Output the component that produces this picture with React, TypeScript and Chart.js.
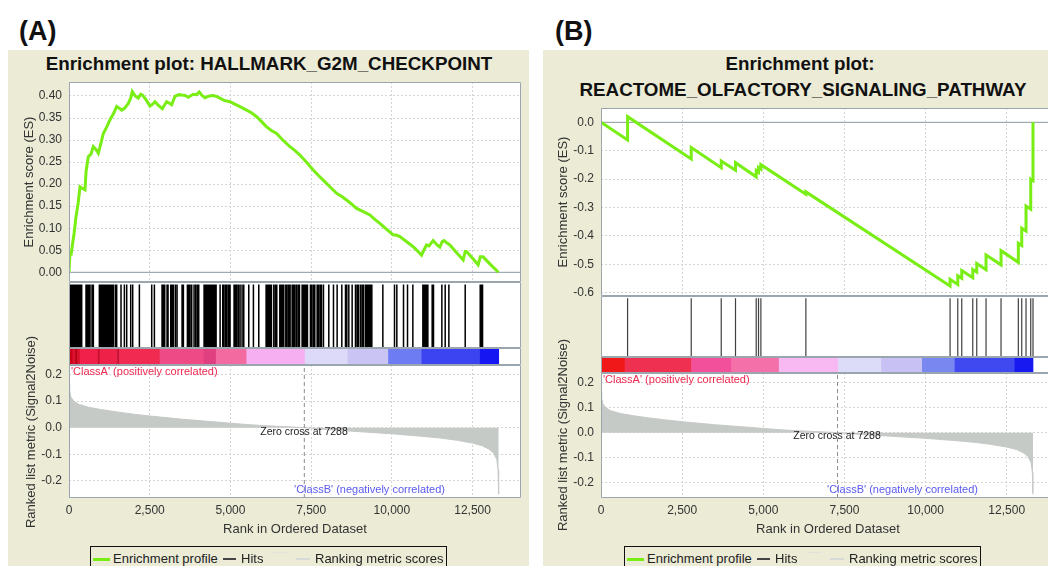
import React, { useEffect, useRef } from "react";
import { Chart, registerables } from "chart.js";

Chart.register(...registerables);

// ---------------- data ----------------
const X_TICKS = [0, 2500, 5000, 7500, 10000, 12500];
const ES_A_TICKS = [0, 0.05, 0.1, 0.15, 0.2, 0.25, 0.3, 0.35, 0.4];
const ES_B_TICKS = [0, -0.1, -0.2, -0.3, -0.4, -0.5, -0.6];
const METRIC_TICKS = [0.2, 0.1, 0, -0.1, -0.2];
const ZERO_CROSS = 7288;

const ES_A_RANKS = [
  0, 31, 70, 114, 160, 217, 280, 341, 420, 495, 530, 598, 680, 753, 840, 908, 980, 1063, 1170, 1270,
  1380, 1476, 1560, 1631, 1720, 1837, 1911, 1961, 2050, 2146, 2220, 2280, 2400, 2508, 2600, 2663, 2780,
  2889, 2965, 3025, 3100, 3180, 3282, 3400, 3489, 3600, 3694, 3849, 3950, 4035, 4120, 4211, 4350, 4469,
  4560, 4675, 4800, 4985, 5150, 5294, 5500, 5650, 5811, 5950, 6120, 6280, 6430, 6620, 6842, 7000, 7152,
  7350, 7564, 7720, 7873, 8080, 8287, 8450, 8597, 8750, 8906, 9100, 9319, 9470, 9628, 9830, 10041, 10150,
  10248, 10450, 10660, 10800, 10919, 10990, 11074, 11150, 11280, 11400, 11487, 11560, 11611, 11700, 11796,
  12000, 12209, 12272, 12313, 12500, 12672, 12740, 12827, 13050, 13300,
];
const ES_A_VALUES = [
  0, 0.045, 0.043, 0.066, 0.09, 0.126, 0.155, 0.194, 0.19, 0.187, 0.23, 0.262, 0.268, 0.285, 0.278, 0.27,
  0.29, 0.315, 0.33, 0.346, 0.36, 0.376, 0.372, 0.368, 0.372, 0.383, 0.395, 0.41, 0.4, 0.395, 0.404, 0.402,
  0.39, 0.377, 0.382, 0.387, 0.378, 0.371, 0.38, 0.387, 0.384, 0.38, 0.399, 0.403, 0.402, 0.401, 0.397,
  0.404, 0.403, 0.409, 0.401, 0.396, 0.4, 0.401, 0.399, 0.395, 0.39, 0.387, 0.381, 0.376, 0.368, 0.362,
  0.353, 0.343, 0.33, 0.321, 0.315, 0.3, 0.285, 0.276, 0.266, 0.25, 0.232, 0.22, 0.209, 0.194, 0.179, 0.172,
  0.164, 0.155, 0.145, 0.138, 0.13, 0.12, 0.111, 0.098, 0.085, 0.084, 0.081, 0.07, 0.058, 0.048, 0.039, 0.05,
  0.062, 0.06, 0.072, 0.062, 0.057, 0.07, 0.072, 0.067, 0.062, 0.045, 0.028, 0.047, 0.047, 0.032, 0.017,
  0.035, 0.035, 0.018, 0,
];

const HITS_A = [
  31, 62, 93, 124, 155, 196, 238, 279, 320, 362, 393, 527, 568, 609, 651, 713, 754, 940, 971, 1002, 1033,
  1064, 1095, 1126, 1167, 1209, 1250, 1291, 1333, 1374, 1436, 1477, 1611, 1715, 1787, 1911, 1973, 2180,
  2562, 2645, 2882, 2923, 2965, 3037, 3068, 3151, 3192, 3233, 3295, 3347, 3502, 3543, 3667, 3708, 3750,
  3801, 3874, 3925, 3977, 4018, 4184, 4225, 4256, 4287, 4318, 4349, 4390, 4432, 4473, 4514, 4556, 4680,
  4762, 4803, 4855, 4896, 4948, 4989, 5113, 5154, 5196, 5247, 5299, 5361, 5413, 5568, 5712, 5878, 6105,
  6146, 6188, 6229, 6270, 6343, 6394, 6436, 6529, 6570, 6611, 6653, 6715, 6756, 6807, 6849, 6911, 6952,
  6993, 7045, 7097, 7138, 7221, 7262, 7303, 7345, 7386, 7479, 7520, 7572, 7613, 7686, 7727, 7778, 7820,
  7882, 8047, 8192, 8305, 8450, 8564, 8605, 8667, 8770, 8873, 8925, 8966, 9028, 9080, 9121, 9183, 9225,
  9266, 9307, 9348, 9380, 9721, 10082, 10154, 10361, 10485, 10650, 10960, 10991, 11022, 11053, 11084,
  11115, 11249, 11290, 11549, 11652, 11766, 12272, 12737, 12778, 12809,
];

const ES_B_RANKS = [
  0, 819, 819, 2780, 2780, 3704, 3704, 4144, 4144, 4782, 4782, 4853, 4853, 4926, 4926, 6312, 6312, 10755,
  10755, 10992, 10992, 11115, 11115, 11454, 11454, 11577, 11577, 11863, 11863, 12325, 12325, 12858, 12858,
  12963, 12963, 13095, 13095, 13240, 13240, 13310, 13310,
];
const ES_B_VALUES = [
  0, -0.062, 0.02, -0.129, -0.089, -0.16, -0.136, -0.169, -0.142, -0.192, -0.17, -0.176, -0.159, -0.165,
  -0.149, -0.253, -0.245, -0.576, -0.553, -0.571, -0.54, -0.549, -0.522, -0.547, -0.518, -0.527, -0.497,
  -0.519, -0.467, -0.502, -0.452, -0.493, -0.426, -0.434, -0.373, -0.383, -0.295, -0.306, -0.2, -0.205, 0,
];
const HITS_B = [
  819, 2780, 3704, 4144, 4782, 4853, 4926, 6312, 10755, 10992, 11115, 11454, 11577, 11863, 12325, 12858,
  12963, 13095, 13240, 13310,
];

const METRIC_RANKS = [
  0, 20, 60, 150, 300, 600, 1000, 1500, 2000, 2500, 3000, 3500, 4000, 4500, 5000, 5500, 6000, 6500, 7000,
  7288, 7500, 8000, 8500, 9000, 9500, 10000, 10500, 11000, 11500, 12000, 12500, 12800, 13000, 13150, 13250,
  13290, 13305, 13310,
];
const METRIC_VALUES = [
  0.165, 0.14, 0.115, 0.1, 0.088, 0.077, 0.068, 0.059, 0.051, 0.044, 0.038, 0.032, 0.027, 0.022, 0.017,
  0.012, 0.008, 0.005, 0.002, 0, -0.002, -0.007, -0.011, -0.015, -0.019, -0.023, -0.028, -0.033, -0.039,
  -0.047, -0.058, -0.068, -0.08, -0.095, -0.12, -0.16, -0.24, -0.25,
];

const CB_A_STARTS = [0, 120, 200, 260, 341, 900, 960, 1500, 1560, 2820, 4180, 4560, 5506, 7314, 8640, 9896, 10929, 12737];
const CB_A_ENDS = [120, 200, 260, 341, 900, 960, 1500, 1560, 2820, 4180, 4560, 5506, 7314, 8640, 9896, 10929, 12737, 13310];
const CB_A_COLORS = [
  "#c80018", "#e01030", "#b80014", "#d8102c", "#f0204a", "#c81030", "#ee2248", "#c41234", "#f02a50",
  "#ee4a86", "#e04080", "#f26aa0", "#f6b0f2", "#dcdaf8", "#cac4f4", "#6d7cf2", "#3c44f2", "#1616f2",
];
const CB_B_STARTS = [0, 740, 2790, 4022, 5490, 7316, 8640, 9900, 10906, 12753];
const CB_B_ENDS = [740, 2790, 4022, 5490, 7316, 8640, 9900, 10906, 12753, 13310];
const CB_B_COLORS = [
  "#f01818", "#f03050", "#f2509a", "#f470a8", "#f8b8f2", "#dcdcf8", "#c8c2f4", "#7888f0", "#4048f0", "#1818f0",
];

// ---------------- style ----------------
const FONT = '"Liberation Sans", Arial, Helvetica, sans-serif';
const GREEN = "#78ee14";
const BEIGE = "#ebebd6";
const GRID = "#d4d4d4";
const FRAME = "#9aa5ae";
const ZERO_LINE = "#8c9ca4";
const FILL = "#c6cac6";
const TICK_COLOR = "#333333";

type Rect = { left: number; top: number; width: number; height: number };

const setTicks = (vals: number[]) => (scale: any) => {
  scale.ticks = vals.map((v) => ({ value: v }));
};
const fixY = (w: number) => (scale: any) => {
  scale.width = w;
  scale.paddingTop = 0;
  scale.paddingBottom = 0;
};
const fixX = (h: number) => (scale: any) => {
  scale.height = h;
  scale.paddingLeft = 0;
  scale.paddingRight = 0;
};

const framePlugin = (noRight: boolean) => ({
  id: "frame",
  beforeDraw(chart: any) {
    const { ctx, chartArea: a } = chart;
    ctx.save();
    ctx.fillStyle = "#ffffff";
    ctx.fillRect(a.left, a.top, a.right - a.left, a.bottom - a.top);
    ctx.restore();
  },
  afterDraw(chart: any) {
    const { ctx, chartArea: a } = chart;
    ctx.save();
    ctx.strokeStyle = FRAME;
    ctx.lineWidth = 1;
    const l = Math.round(a.left) + 0.5;
    const t = Math.round(a.top) + 0.5;
    const r = Math.round(a.right) - 0.5;
    const b = Math.round(a.bottom) - 0.5;
    ctx.beginPath();
    if (noRight) {
      ctx.moveTo(a.right + 2, t);
      ctx.lineTo(l, t);
      ctx.lineTo(l, b);
      ctx.lineTo(a.right + 2, b);
    } else {
      ctx.moveTo(l, t);
      ctx.lineTo(r, t);
      ctx.lineTo(r, b);
      ctx.lineTo(l, b);
      ctx.closePath();
    }
    ctx.stroke();
    ctx.restore();
  },
});

const baseOpts = {
  animation: false as const,
  responsive: false,
  events: [] as string[],
  layout: { padding: 0 },
  plugins: { legend: { display: false }, tooltip: { enabled: false } },
};

const tickFont = { family: FONT, size: 12 };

type Panel = {
  xMax: number;
  noRight: boolean;
  esRanks: number[];
  esValues: number[];
  esMin: number;
  esMax: number;
  esTicks: number[];
  esDigits: number;
  yAxisW: number;
  hits: number[];
  hitColor: string;
  hitWidth: number;
  cbStarts: number[];
  cbEnds: number[];
  cbColors: string[];
  mMin: number;
  mMax: number;
};

function esConfig(p: Panel) {
  return {
    type: "line",
    data: {
      datasets: [
        {
          data: p.esRanks.map((r, i) => ({ x: r, y: p.esValues[i] })),
          borderColor: GREEN,
          borderWidth: 3,
          pointRadius: 0,
          tension: 0,
          borderJoinStyle: "miter",
        },
        {
          data: [
            { x: 0, y: 0 },
            { x: p.xMax, y: 0 },
          ],
          borderColor: ZERO_LINE,
          borderWidth: 1,
          pointRadius: 0,
        },
      ],
    },
    options: {
      ...baseOpts,
      scales: {
        x: {
          type: "linear",
          min: 0,
          max: p.xMax,
          ticks: { display: false },
          grid: { color: GRID, drawTicks: false },
          border: { display: false, dash: [2, 2] },
          afterBuildTicks: setTicks(X_TICKS),
          afterFit: fixX(0),
        },
        y: {
          type: "linear",
          min: p.esMin,
          max: p.esMax,
          ticks: {
            font: tickFont,
            color: TICK_COLOR,
            padding: 7,
            callback: (v: number) => v.toFixed(p.esDigits),
          },
          grid: { color: GRID, drawTicks: false },
          border: { display: false, dash: [2, 2] },
          afterBuildTicks: setTicks(p.esTicks),
          afterFit: fixY(p.yAxisW),
        },
      },
    },
    plugins: [framePlugin(p.noRight)],
  };
}

function hitsConfig(p: Panel) {
  return {
    type: "line",
    data: {
      datasets: [
        {
          data: p.hits.flatMap((h) => [
            { x: h, y: 0 },
            { x: h, y: 1 },
            { x: h, y: null },
          ]),
          borderColor: p.hitColor,
          borderWidth: p.hitWidth,
          pointRadius: 0,
          spanGaps: false,
        },
      ],
    },
    options: {
      ...baseOpts,
      scales: {
        x: { type: "linear", min: 0, max: p.xMax, display: false },
        y: { type: "linear", min: 0, max: 1.04, display: false },
      },
    },
    plugins: [framePlugin(p.noRight)],
  };
}

function cbConfig(p: Panel) {
  return {
    type: "bar",
    data: {
      labels: ["bar"],
      datasets: [
        {
          data: p.cbStarts.map((s, i) => ({ x: [s, p.cbEnds[i]], y: "bar" })),
          backgroundColor: p.cbColors,
          borderWidth: 0,
          barPercentage: 1,
          categoryPercentage: 1,
        },
      ],
    },
    options: {
      ...baseOpts,
      indexAxis: "y",
      scales: {
        x: { type: "linear", min: 0, max: p.xMax, display: false },
        y: { type: "category", display: false },
      },
    },
    plugins: [framePlugin(p.noRight)],
  };
}

function metricConfig(p: Panel) {
  return {
    type: "line",
    data: {
      datasets: [
        {
          data: [
            { x: ZERO_CROSS, y: p.mMin },
            { x: ZERO_CROSS, y: p.mMax },
          ],
          borderColor: "#8a8a8a",
          borderWidth: 1,
          borderDash: [4, 3],
          pointRadius: 0,
        },
        {
          data: METRIC_RANKS.map((r, i) => ({ x: r, y: METRIC_VALUES[i] })),
          borderColor: FILL,
          borderWidth: 1,
          backgroundColor: FILL,
          fill: "origin",
          pointRadius: 0,
          tension: 0,
        },
      ],
    },
    options: {
      ...baseOpts,
      scales: {
        x: {
          type: "linear",
          min: 0,
          max: p.xMax,
          ticks: {
            font: tickFont,
            color: TICK_COLOR,
            padding: 5,
            maxRotation: 0,
            callback: (v: number) => v.toLocaleString("en-US"),
          },
          grid: { color: GRID, drawTicks: false },
          border: { display: false, dash: [2, 2] },
          afterBuildTicks: setTicks(X_TICKS),
          afterFit: fixX(24),
        },
        y: {
          type: "linear",
          min: p.mMin,
          max: p.mMax,
          ticks: {
            font: tickFont,
            color: TICK_COLOR,
            padding: 7,
            callback: (v: number) => v.toFixed(1),
          },
          grid: { color: GRID, drawTicks: false },
          border: { display: false, dash: [2, 2] },
          afterBuildTicks: setTicks(METRIC_TICKS),
          afterFit: fixY(p.yAxisW),
        },
      },
    },
    plugins: [framePlugin(p.noRight)],
  };
}

function ChartCanvas({ rect, make }: { rect: Rect; make: () => any }) {
  const ref = useRef<HTMLCanvasElement>(null);
  useEffect(() => {
    const chart = new Chart(ref.current as HTMLCanvasElement, make());
    return () => chart.destroy();
  }, []);
  return (
    <canvas
      ref={ref}
      width={rect.width}
      height={rect.height}
      style={{
        position: "absolute",
        left: rect.left,
        top: rect.top,
        width: rect.width,
        height: rect.height,
      }}
    />
  );
}

function Txt({
  x,
  y,
  children,
  size = 13,
  bold = false,
  color = "#222",
  align = "center",
  rotate = false,
}: {
  x: number;
  y: number;
  children: React.ReactNode;
  size?: number;
  bold?: boolean;
  color?: string;
  align?: "center" | "left" | "right";
  rotate?: boolean;
}) {
  const tx = align === "center" ? "-50%" : align === "left" ? "0" : "-100%";
  return (
    <div
      style={{
        position: "absolute",
        left: x,
        top: y,
        transform: `translate(${tx}, -50%)${rotate ? " rotate(-90deg)" : ""}`,
        transformOrigin: rotate ? "center center" : undefined,
        fontFamily: FONT,
        fontSize: size,
        fontWeight: bold ? 700 : 400,
        color,
        whiteSpace: "nowrap",
        lineHeight: 1,
      }}
    >
      {children}
    </div>
  );
}

function Legend({ dx }: { dx: number }) {
  const line = (l: number, w: number, y: number, h: number, c: string) => (
    <div style={{ position: "absolute", left: l + dx, top: y, width: w, height: h, background: c }} />
  );
  return (
    <>
      <div
        style={{
          position: "absolute",
          left: 90 + dx,
          top: 546,
          width: 355,
          height: 40,
          border: "1px solid #111",
          background: BEIGE,
        }}
      />
      {line(93, 17, 558, 3, GREEN)}
      <Txt x={113 + dx} y={558} align="left" size={13}>
        Enrichment profile
      </Txt>
      {line(223, 13, 558, 2, "#444")}
      <Txt x={241 + dx} y={558} align="left" size={13}>
        Hits
      </Txt>
      {line(273, 14, 552, 1, "#e2e2dc")}
      {line(296, 14, 558, 2, "#d6dad6")}
      <Txt x={315 + dx} y={558} align="left" size={13}>
        Ranking metric scores
      </Txt>
    </>
  );
}

const PANEL_A: Panel = {
  xMax: 14000,
  noRight: false,
  esRanks: ES_A_RANKS,
  esValues: ES_A_VALUES,
  esMin: -0.022,
  esMax: 0.4317,
  esTicks: ES_A_TICKS,
  esDigits: 2,
  yAxisW: 61,
  hits: HITS_A,
  hitColor: "#000000",
  hitWidth: 1.5,
  cbStarts: CB_A_STARTS,
  cbEnds: CB_A_ENDS,
  cbColors: CB_A_COLORS,
  mMin: -0.2643,
  mMax: 0.2357,
};

const PANEL_B: Panel = {
  xMax: 13772,
  noRight: true,
  esRanks: ES_B_RANKS,
  esValues: ES_B_VALUES,
  esMin: -0.6116,
  esMax: 0.0504,
  esTicks: ES_B_TICKS,
  esDigits: 1,
  yAxisW: 59,
  hits: HITS_B,
  hitColor: "#404040",
  hitWidth: 1.2,
  cbStarts: CB_B_STARTS,
  cbEnds: CB_B_ENDS,
  cbColors: CB_B_COLORS,
  mMin: -0.263,
  mMax: 0.24,
};

export default function App() {
  return (
    <div
      style={{
        position: "fixed",
        left: 0,
        top: 0,
        width: 1048,
        height: 566,
        overflow: "hidden",
        background: "#ffffff",
      }}
    >
      {/* panel backgrounds */}
      <div style={{ position: "absolute", left: 8, top: 50, width: 521, height: 516, background: BEIGE }} />
      <div style={{ position: "absolute", left: 543, top: 50, width: 505, height: 516, background: BEIGE }} />

      <Txt x={19} y={31} align="left" size={27} bold color="#111">
        (A)
      </Txt>
      <Txt x={555} y={31} align="left" size={27} bold color="#111">
        (B)
      </Txt>
      <Txt x={269} y={64} size={18.8} bold color="#111">
        Enrichment plot: HALLMARK_G2M_CHECKPOINT
      </Txt>
      <Txt x={800} y={64} size={18.8} bold color="#111">
        Enrichment plot:
      </Txt>
      <Txt x={803} y={90} size={18.8} bold color="#111">
        REACTOME_OLFACTORY_SIGNALING_PATHWAY
      </Txt>

      {/* Panel A charts */}
      <ChartCanvas rect={{ left: 8, top: 82, width: 513, height: 200 }} make={() => esConfig(PANEL_A)} />
      <ChartCanvas rect={{ left: 69, top: 282, width: 452, height: 66 }} make={() => hitsConfig(PANEL_A)} />
      <ChartCanvas rect={{ left: 69, top: 348, width: 452, height: 17 }} make={() => cbConfig(PANEL_A)} />
      <ChartCanvas rect={{ left: 8, top: 365, width: 513, height: 157 }} make={() => metricConfig(PANEL_A)} />

      {/* Panel B charts */}
      <ChartCanvas rect={{ left: 542, top: 108, width: 506, height: 188 }} make={() => esConfig(PANEL_B)} />
      <ChartCanvas rect={{ left: 601, top: 296, width: 447, height: 61 }} make={() => hitsConfig(PANEL_B)} />
      <ChartCanvas rect={{ left: 601, top: 357, width: 447, height: 16 }} make={() => cbConfig(PANEL_B)} />
      <ChartCanvas rect={{ left: 542, top: 373, width: 506, height: 149 }} make={() => metricConfig(PANEL_B)} />

      {/* Panel A annotations */}
      <Txt x={28} y={182} rotate size={13} color="#333">
        Enrichment score (ES)
      </Txt>
      <Txt x={30} y={432} rotate size={13} color="#333">
        Ranked list metric (Signal2Noise)
      </Txt>
      <Txt x={295} y={528} size={13} color="#333">
        Rank in Ordered Dataset
      </Txt>
      <Txt x={71} y={371} align="left" size={11} color="#f0284f">
        'ClassA' (positively correlated)
      </Txt>
      <Txt x={304} y={431} size={10.5} color="#222">
        Zero cross at 7288
      </Txt>
      <Txt x={445} y={489} align="right" size={11} color="#5a5af0">
        'ClassB' (negatively correlated)
      </Txt>

      {/* Panel B annotations */}
      <Txt x={562} y={202} rotate size={13} color="#333">
        Enrichment score (ES)
      </Txt>
      <Txt x={562} y={435} rotate size={13} color="#333">
        Ranked list metric (Signal2Noise)
      </Txt>
      <Txt x={828} y={528} size={13} color="#333">
        Rank in Ordered Dataset
      </Txt>
      <Txt x={603} y={379} align="left" size={11} color="#f0284f">
        'ClassA' (positively correlated)
      </Txt>
      <Txt x={837} y={435} size={10.5} color="#222">
        Zero cross at 7288
      </Txt>
      <Txt x={978} y={489} align="right" size={11} color="#5a5af0">
        'ClassB' (negatively correlated)
      </Txt>

      <Legend dx={0} />
      <Legend dx={534} />
    </div>
  );
}
